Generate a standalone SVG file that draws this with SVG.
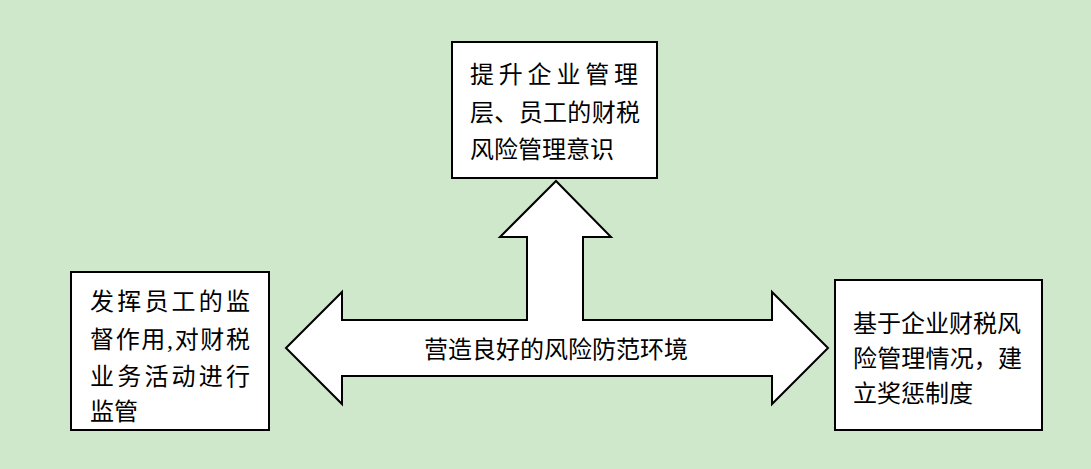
<svg xmlns="http://www.w3.org/2000/svg" width="1091" height="469" viewBox="0 0 1091 469">
<style>
.b{fill:#fff;stroke:#000;stroke-width:2}
text{font-family:"Liberation Serif","Noto Sans CJK SC",serif;font-size:24px;fill:#000}
</style>
<rect width="1091" height="469" fill="#cfe7cb"/>
<g id="connectors">
<path class="b" d="M286,348 L342,292 L342,320 L527,320 L527,237 L500,237 L556,181 L611,237 L583,237 L583,320 L772,320 L772,292 L828,348 L772,404 L772,376 L342,376 L342,404 Z"/>
<text x="556" y="358" text-anchor="middle">营造良好的风险防范环境</text>
</g>
<g id="top">
<rect class="b" x="452" y="42" width="205" height="136"/>
<text x="470" y="83" textLength="168" lengthAdjust="spacing">提升企业管理</text>
<text x="470" y="121" textLength="170" lengthAdjust="spacing">层、员工的财税</text>
<text x="470" y="158">风险管理意识</text>
</g>
<g id="left">
<rect class="b" x="71" y="272" width="198" height="158"/>
<text x="90" y="310" textLength="160" lengthAdjust="spacing">发挥员工的监</text>
<text x="90" y="348" textLength="160" lengthAdjust="spacing">督作用,对财税</text>
<text x="90" y="385" textLength="160" lengthAdjust="spacing">业务活动进行</text>
<text x="90" y="420">监管</text>
</g>
<g id="right">
<rect class="b" x="835" y="280" width="207" height="150"/>
<text x="853" y="332" textLength="168" lengthAdjust="spacing">基于企业财税风</text>
<text x="853" y="367" textLength="169" lengthAdjust="spacing">险管理情况，建</text>
<text x="853" y="402">立奖惩制度</text>
</g>
</svg>
